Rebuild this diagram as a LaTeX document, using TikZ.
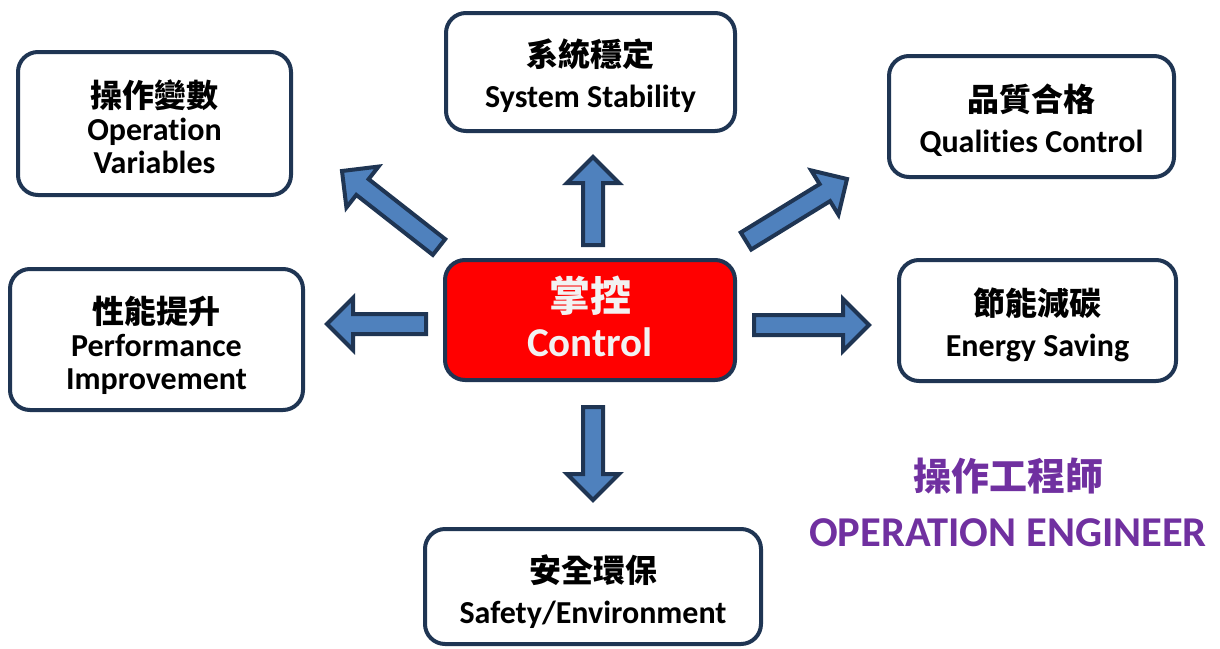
\documentclass[tikz,border=0pt]{standalone}
\usepackage{fontspec}
\setmainfont{Carlito}[Ligatures={NoCommon}]
\newfontfamily\cjk{Noto Sans CJK TC}
\usetikzlibrary{calc}
\definecolor{navy}{HTML}{1F3553}
\definecolor{arrowblue}{HTML}{4F81BD}
\definecolor{ctrlred}{HTML}{FF0000}
\definecolor{engpurple}{HTML}{7030A0}
\tikzset{
  box/.style={draw=navy, line width=4pt, rounded corners=20pt, fill=white,
    align=center, inner sep=0pt, font=\bfseries\fontsize{32}{33}\selectfont},
  twoline/.style={font=\bfseries\fontsize{32}{41}\selectfont},
  barrow/.style={draw=navy, fill=arrowblue, line width=4pt, line join=miter},
}
\newcommand\padtop[1]{\rule{0pt}{#1pt}}
\newcommand\barrow[3]{%
  \coordinate (#3h) at ($(#2)!26pt!(#1)$);
  \draw[barrow] ($(#1)!10pt!90:(#2)$) -- ($(#3h)!10pt!90:(#2)$) -- ($(#3h)!26pt!90:(#2)$) -- (#2)
    -- ($(#3h)!26pt!-90:(#2)$) -- ($(#3h)!10pt!-90:(#2)$) -- ($(#1)!10pt!-90:(#2)$) -- cycle;}
\begin{document}
\begin{tikzpicture}[x=1pt,y=-1pt]
\useasboundingbox (0,0) rectangle (1220,648);
% boxes
\node[box, minimum width=273pt, minimum height=143pt] (ov) at (154.5,123.5)
  {\padtop{34}{\cjk\bfseries 操作變數}\\Operation\\Variables};
\node[box, twoline, minimum width=289pt, minimum height=118pt] (ss) at (590.5,72)
  {\padtop{36}{\cjk\bfseries 系統穩定}\\System Stability};
\node[box, twoline, minimum width=285pt, minimum height=121pt] (qc) at (1031.5,116.5)
  {\padtop{36}{\cjk\bfseries 品質合格}\\Qualities Control};
\node[box, minimum width=293pt, minimum height=141pt] (pi) at (156.5,339.5)
  {\padtop{40}{\cjk\bfseries 性能提升}\\Performance\\Improvement};
\node[box, fill=ctrlred, text=white!95!black, minimum width=290pt, minimum height=120pt,
  font=\bfseries\fontsize{41}{45}\selectfont] (ctl) at (590,320)
  {{\cjk\bfseries 掌控}\\Control\rule[-7pt]{0pt}{0pt}};
\node[box, twoline, minimum width=277pt, minimum height=121pt] (es) at (1037.5,320.5)
  {\padtop{36}{\cjk\bfseries 節能減碳}\\Energy Saving};
\node[box, twoline, minimum width=336pt, minimum height=115pt] (se) at (593,586.5)
  {\padtop{39}{\cjk\bfseries 安全環保}\\Safety/Environment};
% engineer label
\node[text=engpurple, align=center, font=\bfseries\fontsize{42.5}{56}\selectfont] (eng) at (1008,502)
  {{\cjk\bfseries\fontsize{38}{56}\selectfont 操作工程師}\\OPERATION ENGINEER};
% arrows
\coordinate (upT) at (593,245); \coordinate (upH) at (593,157);
\coordinate (dnT) at (593,407); \coordinate (dnH) at (593,500);
\coordinate (lfT) at (426,324); \coordinate (lfH) at (327,324);
\coordinate (rtT) at (754,325); \coordinate (rtH) at (869,325);
\coordinate (ulT) at (439,247); \coordinate (ulH) at (342,171);
\coordinate (urT) at (746,241); \coordinate (urH) at (847,179);
\barrow{upT}{upH}{a1}
\barrow{dnT}{dnH}{a2}
\barrow{lfT}{lfH}{a3}
\barrow{rtT}{rtH}{a4}
\barrow{ulT}{ulH}{a5}
\barrow{urT}{urH}{a6}
\end{tikzpicture}
\end{document}
